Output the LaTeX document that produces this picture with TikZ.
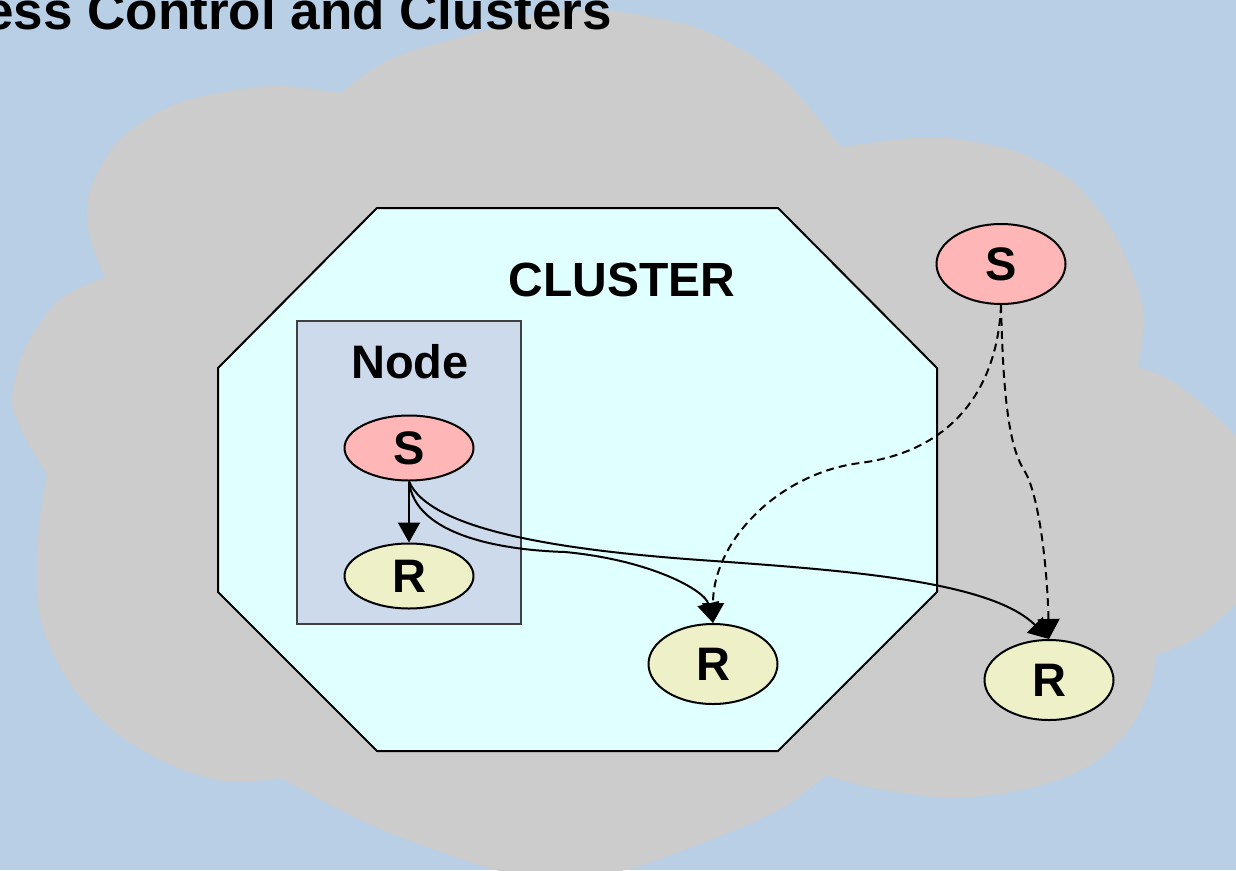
\documentclass[tikz,border=0pt]{standalone}
\usepackage{fontspec}
\setmainfont{Liberation Sans}
\usetikzlibrary{shapes.geometric,arrows.meta}
\definecolor{bgblue}{RGB}{184,207,229}
\definecolor{cloudgray}{RGB}{204,204,204}
\definecolor{clusterfill}{RGB}{224,255,255}
\definecolor{nodefill}{RGB}{204,218,235}
\definecolor{sfill}{RGB}{255,182,182}
\definecolor{rfill}{RGB}{238,240,200}
\begin{document}
\begin{tikzpicture}[x=1pt,y=-1pt,
  ell/.style={ellipse,draw=black,line width=2pt,inner sep=0pt,font=\fontsize{47}{50}\selectfont\bfseries},
  snode/.style={ell,fill=sfill},
  rnode/.style={ell,fill=rfill},
  smallell/.style={minimum width=129pt,minimum height=65pt},
  bigell/.style={minimum width=129pt,minimum height=80pt},
  conn/.style={line width=2pt,-{Triangle[length=20pt,width=22pt]}},
  dconn/.style={conn,dash pattern=on 8pt off 5pt},
  lbl/.style={font=\fontsize{47}{50}\selectfont\bfseries,inner sep=0pt},
  boxnode/.style={draw=black!75,fill=nodefill,line width=2pt,inner sep=0pt}
]
\useasboundingbox (0,0) rectangle (1236,870);
\clip (0,0) rectangle (1236,870);
\fill[bgblue] (0,0) rectangle (1236,870);
% cloud
\fill[cloudgray]
  plot[smooth] coordinates {(841,147) (794,90) (754,57) (695,27) (620,12) (560,10) (498,27) (395,57) (340,93)}
  -- plot[smooth] coordinates {(340,93) (269,86) (178,103) (119,140) (91,187) (87,220) (95,253) (105,277)}
  -- plot[smooth] coordinates {(105,277) (59,300) (24,350) (12,400) (24,435) (47,475)}
  -- plot[smooth] coordinates {(47,475) (38,535) (40,618) (71,685) (119,735) (178,768) (229,782) (281,778)}
  -- plot[smooth] coordinates {(281,778) (356,818) (435,850) (520,875) (616,872) (715,838) (782,808) (826,775)}
  -- plot[smooth] coordinates {(826,775) (873,788) (952,798) (1031,788) (1090,765) (1130,728) (1150,688) (1156,655)}
  -- plot[smooth] coordinates {(1156,655) (1189,642) (1221,618) (1245,590) (1265,520) (1245,450) (1209,410) (1170,380) (1138,367)}
  -- plot[smooth] coordinates {(1138,367) (1144,317) (1134,277) (1110,227) (1071,180) (1011,150) (932,137) (841,147)}
  -- cycle;
% title
\node[anchor=base east,font=\fontsize{53}{60}\selectfont\bfseries,inner sep=0pt] (title) at (612,29) {ess Control and Clusters};
% cluster
\draw[fill=clusterfill,line width=2pt] (377,208) -- (778,208) -- (937,368) -- (937,592) -- (778,751) -- (377,751) -- (218,592) -- (218,368) -- cycle;
\node[lbl,anchor=base,font=\fontsize{48}{50}\selectfont\bfseries] (clusterlbl) at (622,296) {CLUSTER};
% node box
\node[boxnode,minimum width=224pt,minimum height=303pt] (nodebox) at (409,472.5) {};
\node[lbl,anchor=base] (nodelbl) at (410,378) {Node};
% ellipses
\node[snode,smallell] (s1) at (409,448) {S};
\node[rnode,smallell] (r1) at (409,576) {R};
\node[snode,bigell] (s2) at (1001,264) {S};
\node[rnode,bigell] (r2) at (713,664) {R};
\node[rnode,bigell] (r3) at (1049,680) {R};
% waypoints
\coordinate (w1) at (565,552);
\coordinate (w2) at (700,560);
\coordinate (w3) at (860,463);
\coordinate (w4) at (1024,470);
% connectors
\draw[conn] (s1.south) -- (r1.north);
\draw[conn] (s1.south) .. controls (415,535) and (500,550) .. (w1) .. controls (650,560) and (705,590) .. (r2.north);
\draw[conn] (s1.south) .. controls (430,530) and (560,550) .. (w2) .. controls (840,570) and (990,580) .. (r3.north);
\draw[dconn] (s2.south) .. controls (998,380) and (960,450) .. (w3) .. controls (780,473) and (713,540) .. (r2.north);
\draw[dconn] (s2.south) .. controls (1003,390) and (1008,445) .. (w4) .. controls (1038,492) and (1047,560) .. (r3.north);
\end{tikzpicture}
\end{document}
